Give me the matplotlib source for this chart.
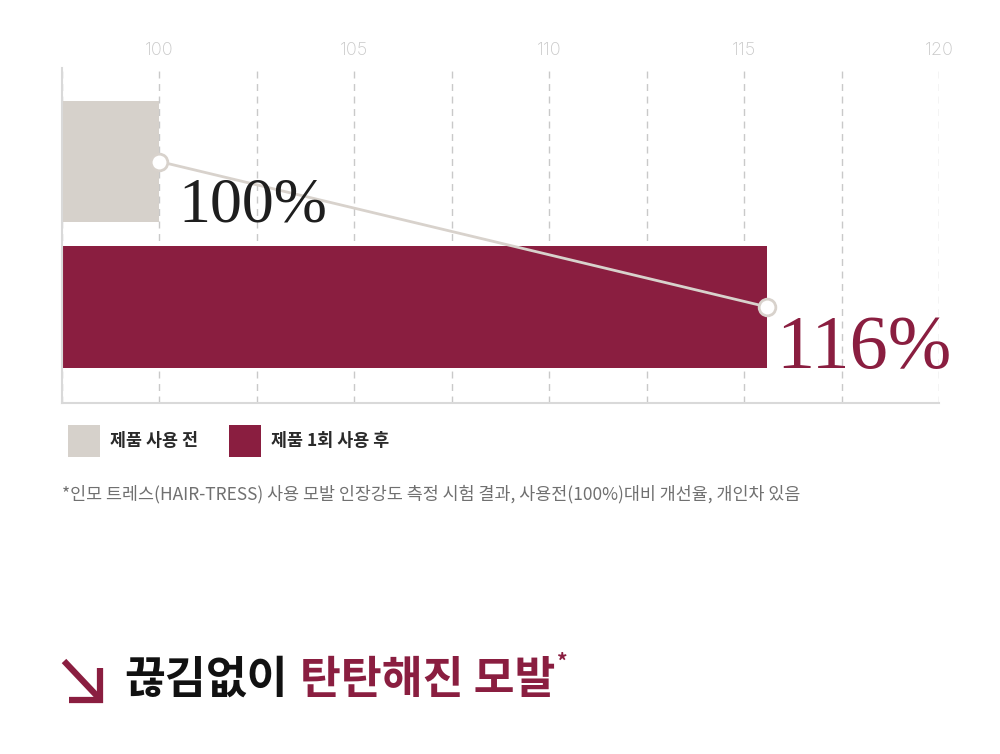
import matplotlib
matplotlib.use("Agg")
import matplotlib.pyplot as plt
from matplotlib.patches import Patch
from matplotlib.lines import Line2D
from matplotlib.ticker import MultipleLocator

# ---- data ----
categories = ["제품 사용 전", "제품 1회 사용 후"]
values = [100, 115.6]
value_labels = ["100%", "116%"]
major_ticks = [100, 105, 110, 115, 120]
tick_labels = ["100", "105", "110", "115", "120"]
footnote = "*인모 트레스(HAIR-TRESS) 사용 모발 인장강도 측정 시험 결과, 사용전(100%)대비 개선율, 개인차 있음"
title_black = "끊김없이"
title_red = "탄탄해진 모발"

# ---- style ----
GRAY = "#d6d1cb"
RED = "#8a1e40"
GRID = "#c9c9c9"
KR = ["Noto Sans CJK KR", "DejaVu Sans"]
plt.rcParams['font.family'] = KR

W, H = 1000, 754
fig = plt.figure(figsize=(W / 100, H / 100), dpi=100)
fig.patch.set_facecolor("white")

def fx(px):
    return px / W

def fy(py):
    return 1 - py / H

ax = fig.add_axes([fx(62), fy(403), fx(939) - fx(62), fy(68) - fy(403)])
ax.set_axisbelow(True)
ax.set_xlim(97.5, 120)
ypos = [1, 0]
ax.set_ylim(-0.66, 1.643)

colors = [GRAY, RED]
ax.barh(ypos, [v - 97.5 for v in values], left=97.5, height=0.832,
        color=colors, zorder=2)

# grid
ax.xaxis.set_minor_locator(MultipleLocator(2.5))
ax.set_xticks(major_ticks)
ax.set_xticklabels(tick_labels)
ax.grid(axis="x", which="both", color=GRID, linestyle=(0, (5, 4)), linewidth=1)
ax.set_yticks([])
ax.xaxis.tick_top()
ax.tick_params(axis="x", which="both", length=0, pad=6.5, labelsize=13, labelcolor="#c8c8c8")
for lab in ax.get_xticklabels():
    lab.set_family(["Inter", "DejaVu Sans"])
    lab.set_weight("light")
for s in ["top", "right"]:
    ax.spines[s].set_visible(False)
for s in ["left", "bottom"]:
    ax.spines[s].set_color("#d9d9d9")
    ax.spines[s].set_linewidth(1.5)

# connecting line
ax.plot(values, ypos, color="#d8d2cc", linewidth=2, zorder=3,
        marker="o", markersize=12, markerfacecolor="white",
        markeredgecolor="#d8d2cc", markeredgewidth=2)

# value labels
ax.annotate(value_labels[0], xy=(values[0], ypos[0]), xytext=(19, -60),
            textcoords="offset pixels", ha="left", va="baseline",
            fontsize=46, family=["Liberation Serif", "DejaVu Serif"], color="#1e1e1e", zorder=4)
ax.annotate(value_labels[1], xy=(values[1], ypos[1]), xytext=(9, -61),
            textcoords="offset pixels", ha="left", va="baseline",
            fontsize=55, family=["Liberation Serif", "DejaVu Serif"], color=RED, zorder=4)

# legend
handles = [Patch(facecolor=c, edgecolor="none") for c in colors]
fs = 12.5
px = fs * 100 / 72
L = 32 / px
Hh = (L - 0.245) / 0.65
fig.legend(handles, categories, loc="upper left", bbox_to_anchor=(fx(68), fy(425)),
           ncol=2, frameon=False, handlelength=L, handleheight=Hh,
           handletextpad=10 / px, columnspacing=31 / px, borderpad=0, borderaxespad=0,
           labelcolor="#2a2a2a", prop={"family": KR, "size": fs, "weight": "bold"})

# footnote
fig.text(fx(62), fy(494), footnote, ha="left", va="center", fontsize=12.5,
         color="#707070", family=KR)

# title arrow (decorative)
lw = 4.5
fig.add_artist(Line2D([fx(64), fx(98)], [fy(661), fy(697)], color=RED, lw=lw,
                      solid_capstyle="butt", transform=fig.transFigure))
fig.add_artist(Line2D([fx(99.5), fx(99.5), fx(69)], [fy(668), fy(699.5), fy(699.5)],
                      color=RED, lw=lw, solid_capstyle="butt", solid_joinstyle="miter",
                      transform=fig.transFigure))

fig.text(fx(124), fy(680), title_black, ha="left", va="center", fontsize=32,
         weight="bold", color="#111111", family=KR)
fig.text(fx(300), fy(680), title_red, ha="left", va="center", fontsize=32,
         weight="bold", color=RED, family=KR)
fig.text(fx(557), fy(662), "*", ha="left", va="center", fontsize=15,
         weight="bold", color=RED, family=KR)

fig.savefig("out.png", dpi=100, facecolor="white")
